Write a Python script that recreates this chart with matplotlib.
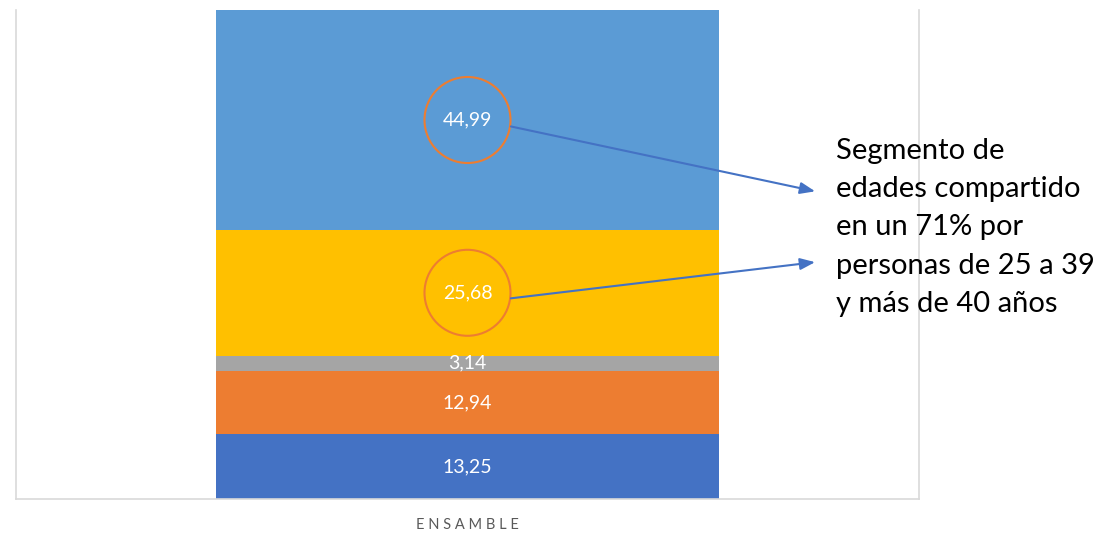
import numpy as np
import matplotlib.pyplot as plt
from matplotlib.patches import Ellipse

# data
category = ["ENSAMBLE"]
values = [13.25, 12.94, 3.14, 25.68, 44.99]
labels = ["13,25", "12,94", "3,14", "25,68", "44,99"]
colors = ["#4472C4", "#ED7D31", "#A5A5A5", "#FFC000", "#5B9BD5"]
circled = [3, 4]   # segments with an orange circle
note = "Segmento de\nedades compartido\nen un 71% por\npersonas de 25 a 39\ny más de 40 años"

plt.rcParams['font.family'] = ['Lato', 'DejaVu Sans']

fig = plt.figure(figsize=(11.02, 5.35), dpi=100)
ax = fig.add_axes([16/1102, 36/535, 903/1102, 489/535])

bottom = 0
centers = []
for v, lab, c in zip(values, labels, colors):
    ax.bar(0, v, width=0.558, bottom=bottom, color=c)
    mid = bottom + v / 2
    centers.append(mid)
    ax.text(0, mid, lab, ha="center", va="center", color="white", fontsize=14)
    bottom += v

ax.set_xlim(-0.5, 0.5)
ax.set_ylim(0, 100)
ax.set_yticks([])
ax.set_xticks([0])
ax.set_xticklabels([" ".join(category[0])], color="#595959", fontsize=10.5)
ax.tick_params(axis="x", length=0, pad=14)
for s in ["left", "right", "bottom"]:
    ax.spines[s].set_color("#D9D9D9")
    ax.spines[s].set_linewidth(1.2)
ax.spines["top"].set_visible(False)

# orange circles and arrows to the note
ypx = 489 / 100
targets = [48.5, 62.8]
for i, t in zip(circled, targets):
    ax.add_patch(Ellipse((0, centers[i]), 86/903, 86/ypx, fill=False,
                         ec="#ED7D31", lw=1.5))
    ax.annotate("", xy=(0.388, t), xytext=(0.045, centers[i] - 1.2),
                annotation_clip=False,
                arrowprops=dict(arrowstyle="-|>,head_length=0.9,head_width=0.35",
                                color="#4472C4", lw=1.5))

fig.text(836/1102, 1 - 138/535, note, ha="left", va="top", fontsize=21,
         linespacing=1.58, color="black")

fig.savefig("out.png", dpi=100)
